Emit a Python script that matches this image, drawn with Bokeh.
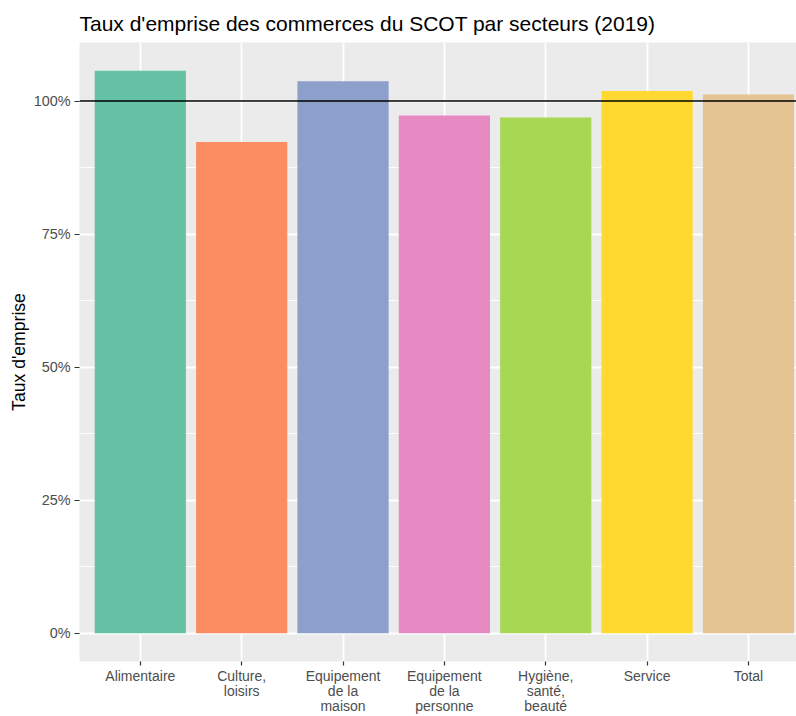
from bokeh.plotting import figure
from bokeh.models import Range1d, FixedTicker, PrintfTickFormatter, Span, ColumnDataSource
from bokeh.embed import file_html
from bokeh.resources import INLINE

categories = ["Alimentaire", "Culture,\nloisirs", "Equipement\nde la\nmaison",
              "Equipement\nde la\npersonne", "Hygiène,\nsanté,\nbeauté", "Service", "Total"]
taux = [105.7, 92.3, 103.7, 97.3, 96.9, 101.9, 101.2]
colors = ["#66C2A5", "#FC8D62", "#8DA0CB", "#E78AC3", "#A6D854", "#FFD92F", "#E5C494"]
y_ticks = [0, 25, 50, 75, 100]
y_minor = [12.5, 37.5, 62.5, 87.5]
reference = 100

xpos = list(range(1, len(categories) + 1))
src = ColumnDataSource(dict(x=xpos, top=taux, color=colors))

FONT = "Liberation Sans"

p = figure(width=796, height=716, output_backend="svg", toolbar_location=None,
           x_range=Range1d(0.4, 7.474), y_range=Range1d(-5.285, 110.99),
           min_border_left=79, min_border_right=0, min_border_top=42, min_border_bottom=20,
           title="Taux d'emprise des commerces du SCOT par secteurs (2019)")

p.background_fill_color = "#EBEBEB"
p.border_fill_color = "white"
p.outline_line_color = None

p.title.text_font = FONT
p.title.text_font_size = "21px"
p.title.text_font_style = "normal"
p.title.text_color = "black"
p.title.align = "left"
p.title.standoff = 15

p.vbar(x="x", top="top", bottom=0, width=0.9, fill_color="color", line_color=None, source=src)

p.add_layout(Span(location=reference, dimension="width", line_color="black", line_width=1.3))

# axes
p.xaxis.ticker = FixedTicker(ticks=xpos)
p.xaxis.major_label_overrides = {x: c for x, c in zip(xpos, categories)}
p.yaxis.ticker = FixedTicker(ticks=y_ticks, minor_ticks=y_minor)
p.yaxis.formatter = PrintfTickFormatter(format="%d%%")
p.yaxis.axis_label = "Taux d'emprise"

for ax in (p.xaxis[0], p.yaxis[0]):
    ax.axis_line_color = None
    ax.major_tick_line_color = "#333333"
    ax.major_tick_line_width = 1.2
    ax.major_tick_in = 0
    ax.minor_tick_line_color = None
    ax.major_label_text_font = FONT
    ax.major_label_text_color = "#4D4D4D"
    ax.axis_label_text_font = FONT
    ax.axis_label_text_font_size = "17.6px"
    ax.axis_label_text_font_style = "normal"
    ax.axis_label_text_color = "black"

p.yaxis.major_tick_out = 5
p.yaxis.major_label_standoff = 4
p.yaxis.major_label_text_font_size = "14.4px"
p.yaxis.axis_label_standoff = 2

p.xaxis.major_tick_out = 4
p.xaxis.major_label_standoff = 2
p.xaxis.major_label_text_font_size = "14px"
p.xaxis.major_label_text_line_height = 0.95

p.xgrid.ticker = FixedTicker(ticks=xpos)
p.xgrid.grid_line_color = "white"
p.xgrid.grid_line_width = 1.8
p.ygrid.grid_line_color = "white"
p.ygrid.grid_line_width = 1.8
p.ygrid.minor_grid_line_color = "white"
p.ygrid.minor_grid_line_width = 0.9

open("out.html", "w").write(file_html(p, INLINE))
